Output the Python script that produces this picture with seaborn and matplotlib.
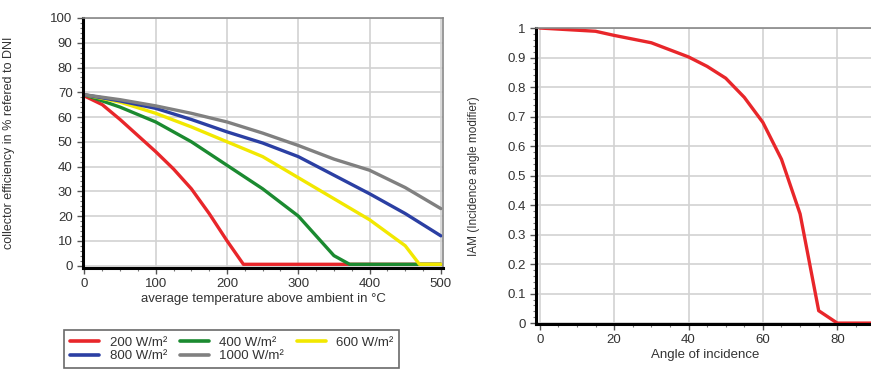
import numpy as np
import pandas as pd
import matplotlib.pyplot as plt
import seaborn as sns
from matplotlib.ticker import MultipleLocator

# efficiency curves (temperature above ambient, efficiency %)
t_200 = [0, 25, 50, 75, 100, 125, 150, 175, 200, 223, 300, 400, 500]
e_200 = [68.5, 65, 59, 52.5, 46, 39, 31, 21, 10, 0.5, 0.5, 0.5, 0.5]
t_400 = [0, 50, 100, 150, 200, 250, 300, 350, 372, 450, 500]
e_400 = [69, 64, 58, 50, 40.5, 31, 20, 4, 0.5, 0.5, 0.5]
t_600 = [0, 50, 100, 150, 200, 250, 300, 350, 400, 450, 470, 500]
e_600 = [69, 66, 61.5, 56, 50, 44, 35.5, 27, 18.5, 8, 0.5, 0.5]
t_800 = [0, 50, 100, 150, 200, 250, 300, 350, 400, 450, 500]
e_800 = [69, 66.5, 63.5, 59, 54, 49.5, 44, 36.5, 29, 21, 12]
t_1000 = [0, 50, 100, 150, 200, 250, 300, 350, 400, 450, 500]
e_1000 = [69, 67, 64.5, 61.5, 58, 53.5, 48.5, 43, 38.5, 31.5, 23]

series_names = ['200 W/m²', '400 W/m²', '600 W/m²', '800 W/m²', '1000 W/m²']
series_colors = ['#e8262a', '#1b8a30', '#f2e800', '#2b3fa3', '#808080']

# incidence angle modifier
angle = [0, 15, 20, 30, 40, 45, 50, 55, 60, 65, 70, 75, 80, 90]
iam = [1.0, 0.989, 0.975, 0.95, 0.902, 0.87, 0.83, 0.765, 0.68, 0.555, 0.37, 0.042, 0.0, 0.0]

frames = []
for name, t, e in zip(series_names, [t_200, t_400, t_600, t_800, t_1000],
                      [e_200, e_400, e_600, e_800, e_1000]):
    frames.append(pd.DataFrame({'temp': t, 'eff': e, 'irr': name}))
df = pd.concat(frames, ignore_index=True)
df_iam = pd.DataFrame({'angle': angle, 'iam': iam})

sns.set_style('white')
plt.rcParams['font.family'] = ['Liberation Sans', 'DejaVu Sans']
txt = '#333333'
fs = 9.5

fig = plt.figure(figsize=(8.71, 3.71), dpi=100)
ax1 = fig.add_axes([0.0953, 0.2776, 0.4133, 0.6739])
ax2 = fig.add_axes([0.6154, 0.1267, 0.3886, 0.7978])


def style_axes(ax):
    ax.grid(True, which='major', color='#d2d2d2', linewidth=1.2)
    ax.set_axisbelow(True)
    for s in ['top', 'right']:
        ax.spines[s].set_color('#888888')
        ax.spines[s].set_linewidth(1.2)
    for s in ['left', 'bottom']:
        ax.spines[s].set_color('black')
        ax.spines[s].set_linewidth(2.2)
    ax.tick_params(which='major', direction='out', length=4, width=1, color='#555555',
                   labelsize=fs, labelcolor=txt, left=True, bottom=True)
    ax.tick_params(which='minor', direction='out', length=2, width=0.8, color='#777777',
                   left=True, bottom=True)


sns.lineplot(data=df, x='temp', y='eff', hue='irr', palette=series_colors,
             linewidth=2.4, ax=ax1, legend=False, sort=False)
ax1.set_xlim(-2, 503)
ax1.set_ylim(-1, 100)
ax1.xaxis.set_major_locator(MultipleLocator(100))
ax1.xaxis.set_minor_locator(MultipleLocator(25))
ax1.yaxis.set_major_locator(MultipleLocator(10))
ax1.yaxis.set_minor_locator(MultipleLocator(2))
style_axes(ax1)
ax1.set_xlabel('average temperature above ambient in °C', fontsize=fs, color=txt, labelpad=2)
ax1.set_ylabel('collector efficiency in % refered to DNI', fontsize=9, color=txt)
ax1.yaxis.set_label_coords(-0.19, 0.5)

# legend fills row by row in the reference
order = [0, 3, 1, 4, 2]
handles = [plt.Line2D([], [], color=series_colors[i], linewidth=2.6) for i in order]
labels = [series_names[i] for i in order]
leg = fig.legend(handles, labels, ncol=3, loc='lower left',
                 bbox_to_anchor=(0.066, -0.01, 0.40, 0.13), mode='expand',
                 fontsize=fs, frameon=True, fancybox=False, handlelength=2.2,
                 labelspacing=0.1, borderpad=0.45, columnspacing=1.0)
leg.get_frame().set_edgecolor('#444444')
leg.get_frame().set_linewidth(1.2)
for t in leg.get_texts():
    t.set_color(txt)

sns.lineplot(data=df_iam, x='angle', y='iam', color='#e8262a', linewidth=2.4, ax=ax2)
ax2.set_xlim(-1, 90)
ax2.set_ylim(-0.003, 1.0)
ax2.xaxis.set_major_locator(MultipleLocator(20))
ax2.xaxis.set_minor_locator(MultipleLocator(5))
ax2.yaxis.set_major_locator(MultipleLocator(0.1))
ax2.yaxis.set_minor_locator(MultipleLocator(0.02))
ax2.yaxis.set_major_formatter(plt.FuncFormatter(lambda v, p: '%g' % round(v, 1)))
style_axes(ax2)
ax2.set_xlabel('Angle of incidence', fontsize=fs, color=txt, labelpad=2)
ax2.set_ylabel('IAM (Incidence angle modifier)', fontsize=8.5, color=txt)
ax2.yaxis.set_label_coords(-0.165, 0.5)

fig.savefig('out.png', dpi=100)
